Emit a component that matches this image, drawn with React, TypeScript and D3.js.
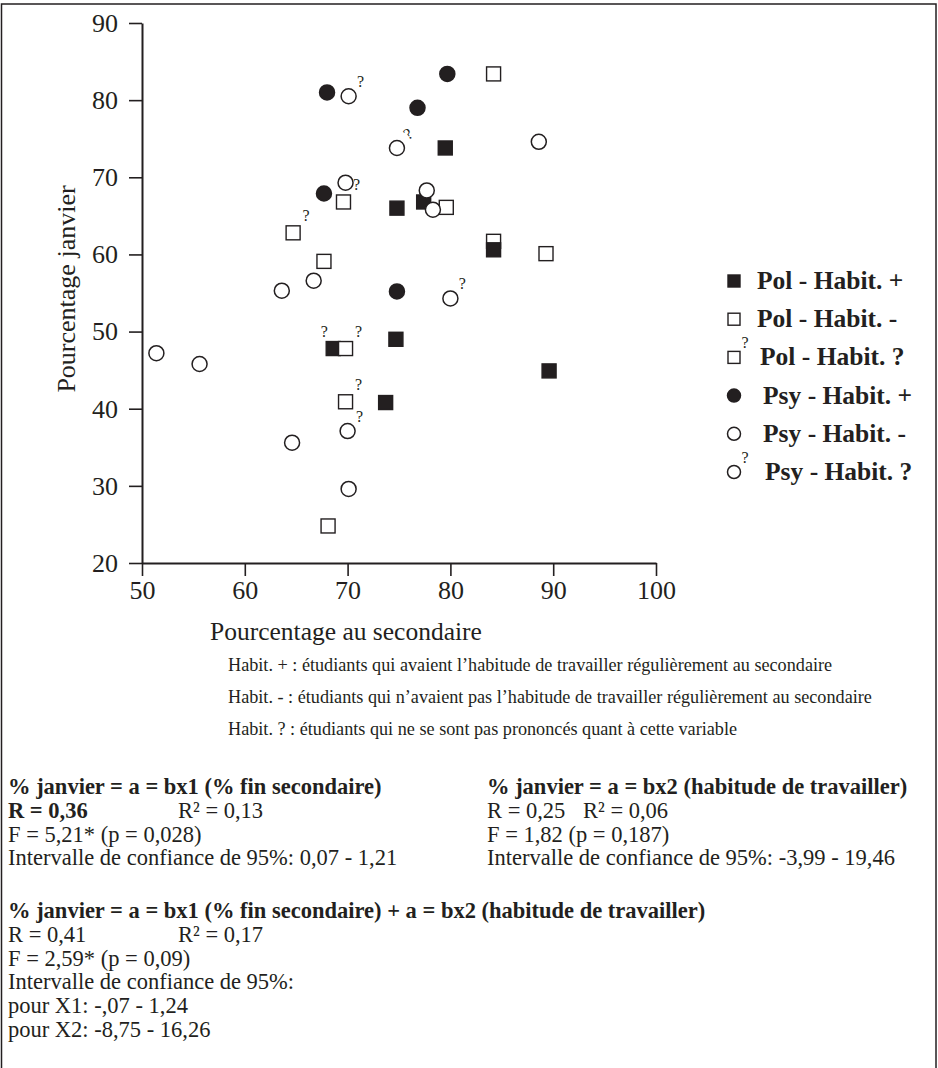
import { useEffect, useRef } from "react";
import * as d3 from "d3";

// values: [pourcentage au secondaire, pourcentage janvier]
const polPlus = [[79.5, 73.8], [74.8, 66.0], [77.4, 66.8], [84.2, 60.6], [74.7, 49.0], [73.7, 40.8], [89.6, 44.9]];
const polPlusUnsure = [[68.6, 47.8]];
const polMinus = [[84.2, 83.4], [79.6, 66.1], [84.2, 61.7], [89.3, 60.1], [67.7, 59.1], [68.1, 24.8]];
const polUnsure = [[69.6, 66.8], [64.7, 62.8], [69.8, 47.8], [69.8, 40.9]];
const psyPlus = [[68.0, 81.0], [79.7, 83.4], [76.8, 79.0], [67.7, 67.9], [74.8, 55.2]];
const psyMinus = [[69.8, 69.3], [88.6, 74.6], [77.7, 68.3], [78.3, 65.8], [63.6, 55.3], [66.7, 56.6], [51.4, 47.2], [55.6, 45.8], [64.6, 35.6], [70.1, 29.6]];
const psyUnsure = [[70.1, 80.5], [74.8, 73.8], [80.0, 54.3], [70.0, 37.1]];

const xTicks = [50, 60, 70, 80, 90, 100];
const yTicks = [20, 30, 40, 50, 60, 70, 80, 90];

const legendItems = [
  { label: "Pol - Habit. +", shape: "square", filled: true, q: false },
  { label: "Pol - Habit. -", shape: "square", filled: false, q: false },
  { label: "Pol - Habit. ?", shape: "square", filled: false, q: true },
  { label: "Psy - Habit. +", shape: "circle", filled: true, q: false },
  { label: "Psy - Habit. -", shape: "circle", filled: false, q: false },
  { label: "Psy - Habit. ?", shape: "circle", filled: false, q: true },
];

const notes = [
  "Habit. + : étudiants qui avaient l’habitude de travailler régulièrement au secondaire",
  "Habit. - : étudiants qui n’avaient pas l’habitude de travailler régulièrement au secondaire",
  "Habit. ? : étudiants qui ne se sont pas prononcés quant à cette variable",
];

const statsLeft = {
  title: "% janvier = a = bx1 (% fin secondaire)",
  r: "R = 0,36",
  r2: "R² = 0,13",
  lines: ["F = 5,21* (p = 0,028)", "Intervalle de confiance de 95%: 0,07 - 1,21"],
};
const statsRight = {
  title: "% janvier = a = bx2 (habitude de travailler)",
  r: "R = 0,25",
  r2: "R² = 0,06",
  lines: ["F = 1,82 (p = 0,187)", "Intervalle de confiance de 95%: -3,99 - 19,46"],
};
const statsBoth = {
  title: "% janvier = a = bx1 (% fin secondaire) + a = bx2 (habitude de travailler)",
  r: "R = 0,41",
  r2: "R² = 0,17",
  lines: ["F = 2,59* (p = 0,09)", "Intervalle de confiance de 95%:", "pour X1: -,07 - 1,24", "pour X2: -8,75 - 16,26"],
};

const font = "'Liberation Serif', 'Times New Roman', serif";
const ink = "#231f20";

const App = () => {
  const width = 938;
  const height = 1068;

  const x = d3.scaleLinear().domain([50, 100]).range([142, 656]);
  const y = d3.scaleLinear().domain([20, 90]).range([563, 23]);

  const xAxisRef = useRef<SVGGElement>(null);
  const yAxisRef = useRef<SVGGElement>(null);

  useEffect(() => {
    const styleAxis = (g: any) => {
      g.select(".domain").attr("stroke", ink).attr("stroke-width", 2);
      g.selectAll(".tick line").attr("stroke", ink).attr("stroke-width", 1.6);
      g.selectAll(".tick text")
        .attr("fill", ink)
        .style("font-family", font)
        .style("font-size", "26px");
    };
    d3.select(xAxisRef.current)
      .call(d3.axisBottom(x).tickValues(xTicks).tickSize(13).tickSizeOuter(0).tickPadding(5) as any)
      .call(styleAxis);
    d3.select(yAxisRef.current)
      .call(d3.axisLeft(y).tickValues(yTicks).tickSize(13).tickSizeOuter(0).tickPadding(11) as any)
      .call(styleAxis);
  }, []);

  const sq = 14;
  const rad = 7.5;

  const square = (cx: number, cy: number, filled: boolean, key: string, size = sq) => (
    <rect
      key={key}
      x={cx - size / 2}
      y={cy - size / 2}
      width={size}
      height={size}
      fill={filled ? ink : "#fff"}
      stroke={ink}
      strokeWidth={1.4}
    />
  );
  const circle = (cx: number, cy: number, filled: boolean, key: string, r = rad) => (
    <circle key={key} cx={cx} cy={cy} r={r} fill={filled ? ink : "#fff"} stroke={ink} strokeWidth={1.5} />
  );
  const qmark = (qx: number, qy: number, key: string, rot = 0.01) => (
    <text
      key={key}
      x={qx}
      y={qy}
      fontFamily={font}
      fontSize={16}
      fill={ink}
      textAnchor="middle"
      transform={`rotate(${rot},${qx},${qy - 4})`}
    >
      ?
    </text>
  );

  const statBlock = (s: typeof statsLeft, bx: number, by: number, r2dx: number, boldR: boolean, key: string) => (
    <g key={key} fontFamily={font} fontSize={22.5} fill={ink}>
      <text x={bx} y={by} fontWeight="bold" fontSize={22.5}>{s.title}</text>
      <text x={bx} y={by + 24} fontWeight={boldR ? "bold" : "normal"}>{s.r}</text>
      <text x={bx + r2dx} y={by + 24}>{s.r2}</text>
      {s.lines.map((l, i) => (
        <text key={i} x={bx} y={by + 47.5 + i * 23.8}>{l}</text>
      ))}
    </g>
  );

  return (
    <svg
      width={width}
      height={height}
      style={{ position: "absolute", left: 0, top: 0, background: "#fff" }}
    >
      <rect x={1.5} y={4} width={934.5} height={1080} fill="#fff" stroke={ink} strokeWidth={1.5} />

      <g ref={xAxisRef} transform={`translate(0,${y(20)})`} />
      <g ref={yAxisRef} transform={`translate(${x(50)},0)`} />

      <text
        transform={`translate(75,${(y(20) + y(90)) / 2 - 4}) rotate(-90)`}
        textAnchor="middle"
        fontFamily={font}
        fontSize={26}
        fill={ink}
      >
        Pourcentage janvier
      </text>
      <text x={210} y={640} fontFamily={font} fontSize={25.5} fill={ink}>
        Pourcentage au secondaire
      </text>

      {/* squares first, circles on top */}
      {polMinus.map((d, i) => square(x(d[0]), y(d[1]), false, `pm${i}`))}
      {polPlus.map((d, i) => square(x(d[0]), y(d[1]), true, `pp${i}`))}
      {polPlusUnsure.map((d, i) => (
        <g key={`ppu${i}`}>
          {square(x(d[0]), y(d[1]), true, "s")}
          {qmark(x(d[0]) - 9, y(d[1]) - 12, "q")}
        </g>
      ))}
      {polUnsure.map((d, i) => (
        <g key={`pu${i}`}>
          {square(x(d[0]), y(d[1]), false, "s")}
          {qmark(x(d[0]) + 13, y(d[1]) - 12, "q")}
        </g>
      ))}
      {psyMinus.map((d, i) => circle(x(d[0]), y(d[1]), false, `sm${i}`))}
      {psyUnsure.map((d, i) => (
        <g key={`su${i}`}>
          {circle(x(d[0]), y(d[1]), false, "c")}
          {qmark(x(d[0]) + 12, y(d[1]) - 9, "q", i === 1 ? -35 : 0.01)}
        </g>
      ))}
      {psyPlus.map((d, i) => circle(x(d[0]), y(d[1]), true, `sp${i}`))}

      {/* legend */}
      {legendItems.map((it, i) => {
        const cy = 281 + i * 38.2;
        const mx = 734;
        const tx = it.shape === "square" ? (it.q ? 760 : 757) : (it.q ? 765 : 763);
        return (
          <g key={it.label}>
            {it.shape === "square"
              ? square(mx, cy, it.filled, "m", 12)
              : circle(mx, cy, it.filled, "m", 6.5)}
            {it.q && qmark(mx + 11, cy - 9, "q")}
            <text x={tx} y={cy + 8} fontFamily={font} fontSize={25.5} fontWeight="bold" fill={ink}>
              {it.label}
            </text>
          </g>
        );
      })}

      {/* notes under the chart */}
      {notes.map((n, i) => (
        <text key={i} x={228} y={671 + i * 32} fontFamily={font} fontSize={18.2} fill={ink}>
          {n}
        </text>
      ))}

      {statBlock(statsLeft, 8, 794, 170, true, "left")}
      {statBlock(statsRight, 487, 794, 96, false, "right")}
      {statBlock(statsBoth, 8, 918, 170, false, "both")}
    </svg>
  );
};

export default App;
